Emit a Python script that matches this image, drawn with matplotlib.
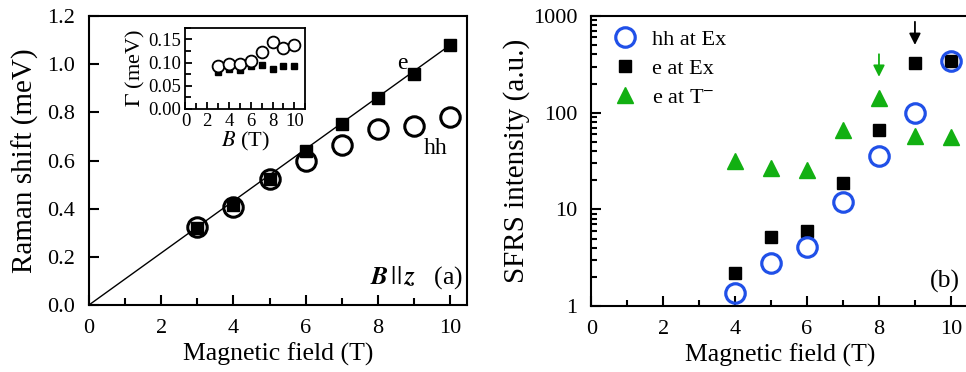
import numpy as np
import matplotlib
matplotlib.use("Agg")
import matplotlib.pyplot as plt
from matplotlib.ticker import MultipleLocator, NullFormatter, LogLocator

plt.rcParams['font.family'] = ['Liberation Serif', 'DejaVu Serif']
plt.rcParams['mathtext.fontset'] = 'stix'

# panel (a): Raman shift vs field
B = [3, 4, 5, 6, 7, 8, 9, 10]
shift_e = [0.32, 0.415, 0.525, 0.64, 0.75, 0.86, 0.96, 1.08]
shift_hh = [0.325, 0.405, 0.525, 0.60, 0.665, 0.73, 0.745, 0.78]
fit_B = [0, 10]
fit_shift = [0, 1.08]

# inset: linewidth
gamma_hh = [0.093, 0.098, 0.097, 0.103, 0.123, 0.145, 0.132, 0.138]
gamma_e = [0.080, 0.087, 0.085, 0.092, 0.095, 0.087, 0.092, 0.092]

# panel (b): SFRS intensity
B2 = [4, 5, 6, 7, 8, 9, 10]
hh_ex = [1.37, 2.8, 4.1, 12, 36, 100, 342]
e_ex = [2.2, 5.2, 6.0, 18.7, 66, 329, 342]
e_trion = [31.5, 26.5, 25.5, 67, 141, 57, 56.5]

blue = '#2050e8'
green = '#12b012'

fig = plt.figure(figsize=(9.66, 3.72), dpi=100)

# ---- panel (a)
ax = fig.add_axes([0.092, 0.180, 0.391, 0.777])
ax.plot(fit_B, fit_shift, color='black', lw=1.0, zorder=1)
ax.plot(B, shift_e, 's', color='black', ms=8, zorder=2)
ax.plot(B, shift_hh, 'o', mfc='none', mec='black', mew=2.2, ms=14, zorder=3)
ax.set_xlim(0, 10.45)
ax.set_ylim(0, 1.2)
ax.xaxis.set_major_locator(MultipleLocator(2))
ax.xaxis.set_minor_locator(MultipleLocator(1))
ax.yaxis.set_major_locator(MultipleLocator(0.2))
ax.yaxis.set_major_formatter(matplotlib.ticker.FormatStrFormatter('%.1f'))
ax.tick_params(direction='in', which='both', labelsize=16, width=1.5)
ax.tick_params(which='major', length=7)
ax.tick_params(which='minor', length=5)
ax.tick_params(axis='x', pad=10)
ax.tick_params(axis='y', pad=10)
for s in ax.spines.values():
    s.set_linewidth(1.5)
ax.set_xlabel('Magnetic field (T)', fontsize=18.5, labelpad=3)
ax.set_ylabel('Raman shift (meV)', fontsize=21, labelpad=6)
ax.text(8.52, 0.98, 'e', fontsize=17)
ax.text(9.26, 0.625, 'hh', fontsize=17)
ax.text(10.35, 0.09, r'$\boldsymbol{B}\,||\,\boldsymbol{z}$   (a)', fontsize=18.5, ha='right')

# inset
ins = fig.add_axes([0.192, 0.707, 0.124, 0.218])
ins.plot(B, gamma_e, 's', color='black', ms=5)
ins.plot(B, gamma_hh, 'o', mfc='white', mec='black', mew=1.3, ms=8.5)
ins.set_xlim(0, 11)
ins.set_ylim(0, 0.175)
ins.xaxis.set_major_locator(MultipleLocator(2))
ins.xaxis.set_minor_locator(MultipleLocator(1))
ins.yaxis.set_major_locator(MultipleLocator(0.05))
ins.yaxis.set_minor_locator(MultipleLocator(0.025))
ins.yaxis.set_major_formatter(matplotlib.ticker.FormatStrFormatter('%.2f'))
ins.tick_params(direction='in', which='both', labelsize=13.5, width=1.3, pad=3)
ins.tick_params(which='major', length=5)
ins.tick_params(which='minor', length=4)
for s in ins.spines.values():
    s.set_linewidth(1.3)
ins.set_xlabel(r'$B$ (T)', fontsize=16, labelpad=0)
ins.set_ylabel(r'$\mathit{\Gamma}$ (meV)', fontsize=16, labelpad=1)

# ---- panel (b)
bx = fig.add_axes([0.612, 0.177, 0.391, 0.780])
bx.plot(B2, hh_ex, 'o', mfc='none', mec=blue, mew=2.3, ms=14, label='hh at Ex', zorder=3)
bx.plot(B2, e_ex, 's', color='black', ms=8.5, label='e at Ex', zorder=2)
bx.plot(B2, e_trion, '^', color=green, ms=12, label=r'e at T$^{-}$', zorder=1)
bx.set_yscale('log')
bx.set_xlim(0, 10.5)
bx.set_ylim(1, 1000)
bx.xaxis.set_major_locator(MultipleLocator(2))
bx.xaxis.set_minor_locator(MultipleLocator(1))
bx.yaxis.set_major_formatter(matplotlib.ticker.FuncFormatter(lambda v, p: '%d' % v))
bx.yaxis.set_minor_locator(LogLocator(base=10, subs=np.arange(2, 10)))
bx.yaxis.set_minor_formatter(NullFormatter())
bx.tick_params(direction='in', which='both', labelsize=16, width=1.5)
bx.tick_params(which='major', length=7)
bx.tick_params(which='minor', length=4)
bx.tick_params(axis='x', pad=10)
bx.tick_params(axis='y', pad=10)
for s in bx.spines.values():
    s.set_linewidth(1.5)
bx.set_xlabel('Magnetic field (T)', fontsize=18.5, labelpad=3)
bx.set_ylabel('SFRS intensity (a.u.)', fontsize=21, labelpad=2)
bx.legend(loc='upper left', bbox_to_anchor=(0.02, 1.0), frameon=False, fontsize=16,
          handletextpad=0.6, labelspacing=0.38, borderpad=0.2, borderaxespad=0.4,
          handlelength=1.2)
bx.annotate('', xy=(9, 470), xytext=(9, 930),
            arrowprops=dict(arrowstyle='-|>', color='black', lw=1.3, mutation_scale=17))
bx.annotate('', xy=(8, 220), xytext=(8, 430),
            arrowprops=dict(arrowstyle='-|>', color=green, lw=1.3, mutation_scale=17))
bx.text(10.25, 1.55, '(b)', fontsize=18.5, ha='right')

fig.savefig('out.png', dpi=100)
